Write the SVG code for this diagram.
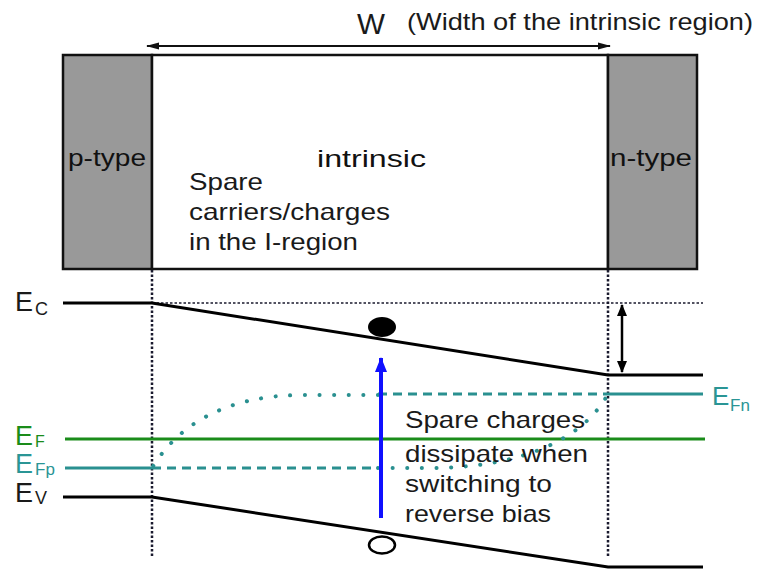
<svg xmlns="http://www.w3.org/2000/svg" width="760" height="569" viewBox="0 0 760 569">
<defs>
<style>
.box{stroke:#111;stroke-width:2.5}
.gray{fill:#999}
.ar{font-family:"Liberation Sans",Arial,sans-serif;fill:#111}
.cg{font-family:"Liberation Sans",Arial,sans-serif;fill:#1a1a1a}
.band{stroke:#000;stroke-width:3;fill:none}
.guide{stroke:#1a1a2e;stroke-width:2.5;stroke-dasharray:2.5 2;fill:none}
.green{stroke:#1a8c1a;stroke-width:3;fill:none}
.teal{stroke:#2a9090;stroke-width:3;fill:none}
.dash{stroke-dasharray:9 6}
.dots{stroke-dasharray:0.1 14.5;stroke-linecap:round;stroke-width:4}
.tealtxt{fill:#2a9595}
.greentxt{fill:#1a8c1a}
</style>
<marker id="wHead" viewBox="0 0 13 8" refX="12" refY="4" markerWidth="13" markerHeight="8" markerUnits="userSpaceOnUse" orient="auto-start-reverse">
<path d="M0,0.5 L13,4 L0,7.5 z" fill="#111"/>
</marker>
<marker id="dHead" viewBox="0 0 12 10" refX="11" refY="5" markerWidth="12" markerHeight="10" markerUnits="userSpaceOnUse" orient="auto-start-reverse">
<path d="M0,0 L12,5 L0,10 z" fill="#000"/>
</marker>
<marker id="bHead" viewBox="0 0 15 12" refX="14" refY="6" markerWidth="15" markerHeight="12" markerUnits="userSpaceOnUse" orient="auto">
<path d="M0,0 L15,6 L0,12 z" fill="#1010ff"/>
</marker>
</defs>
<rect x="0" y="0" width="760" height="569" fill="#fff"/>

<g id="p-type">
<rect x="63" y="55" width="89" height="214" class="box gray"/>
<text class="ar" x="68" y="166" font-size="24" textLength="78" lengthAdjust="spacingAndGlyphs">p-type</text>
</g>
<g id="intrinsic">
<rect x="152" y="55" width="456" height="214" fill="#fff" class="box"/>
<text class="ar" x="317" y="167" font-size="24" textLength="109" lengthAdjust="spacingAndGlyphs">intrinsic</text>
<text class="cg" x="189" y="190" font-size="24" textLength="74" lengthAdjust="spacingAndGlyphs">Spare</text>
<text class="cg" x="189" y="220" font-size="24" textLength="201" lengthAdjust="spacingAndGlyphs">carriers/charges</text>
<text class="cg" x="189" y="250" font-size="24" textLength="169" lengthAdjust="spacingAndGlyphs">in the I-region</text>
</g>
<g id="n-type">
<rect x="608" y="55" width="89" height="214" class="box gray"/>
<text class="ar" x="610" y="166" font-size="24" textLength="82" lengthAdjust="spacingAndGlyphs">n-type</text>
</g>

<g id="width-label">
<text class="cg" x="357" y="34" font-size="29" textLength="28" lengthAdjust="spacingAndGlyphs">W</text>
<text class="cg" x="407" y="30" font-size="24" textLength="346" lengthAdjust="spacingAndGlyphs">(Width of the intrinsic region)</text>
</g>

<g id="guides">
<path class="guide" d="M152,270 V557"/>
<path class="guide" d="M608,270 V557"/>
<path class="guide" d="M152,303 H703" style="stroke-width:1.5"/>
</g>

<g id="bands">
<path id="Ec" class="band" d="M63,303 H152 L608,375 H703"/>
<path id="Ev" class="band" d="M63,497 H152 L608,567 H703"/>
<path id="Ef" class="green" d="M65,439 H705"/>
<g id="Efp">
<path class="teal" d="M65,468 H152"/>
<path class="teal dash" d="M152,468 H378"/>
<path class="teal dots" d="M378,468 H430 C510,468 580,445 608,394"/>
</g>
<g id="Efn">
<path class="teal" d="M608,394 H703"/>
<path class="teal dash" d="M378,394 H608"/>
<path class="teal dots" d="M378,395 H300 C225,396 178,425 152,468"/>
</g>
</g>

<g id="carriers">
<ellipse id="electron" cx="382" cy="327" rx="14" ry="10" fill="#000"/>
<ellipse id="hole" cx="382" cy="545" rx="13" ry="8.5" fill="#fff" stroke="#000" stroke-width="2.5"/>
</g>

<g id="connectors">
<line x1="147" y1="46" x2="610" y2="46" stroke="#111" stroke-width="2" marker-start="url(#wHead)" marker-end="url(#wHead)"/>
<line x1="622" y1="305" x2="622" y2="372" stroke="#000" stroke-width="2.5" marker-start="url(#dHead)" marker-end="url(#dHead)"/>
<line x1="381" y1="518" x2="381" y2="358" stroke="#1010ff" stroke-width="4" marker-end="url(#bHead)"/>
</g>

<g id="band-labels">
<text class="cg" x="15" y="311" font-size="27">E<tspan x="35" y="315" font-size="18">C</tspan></text>
<text class="cg greentxt" x="15" y="445" font-size="27">E<tspan x="35" y="447" font-size="16">F</tspan></text>
<text class="cg tealtxt" x="15" y="473" font-size="27">E<tspan x="35" y="475" font-size="17">Fp</tspan></text>
<text class="cg" x="15" y="502" font-size="27">E<tspan x="35" y="504" font-size="18">V</tspan></text>
<text class="cg tealtxt" x="712" y="405" font-size="26">E<tspan x="730" y="411" font-size="17">Fn</tspan></text>
</g>

<g id="dissipate-note">
<text class="cg" x="405" y="428" font-size="24" textLength="180" lengthAdjust="spacingAndGlyphs">Spare charges</text>
<text class="cg" x="405" y="462" font-size="24" textLength="183" lengthAdjust="spacingAndGlyphs">dissipate when</text>
<text class="cg" x="405" y="492" font-size="24" textLength="147" lengthAdjust="spacingAndGlyphs">switching to</text>
<text class="cg" x="405" y="522" font-size="24" textLength="146" lengthAdjust="spacingAndGlyphs">reverse bias</text>
</g>
</svg>
